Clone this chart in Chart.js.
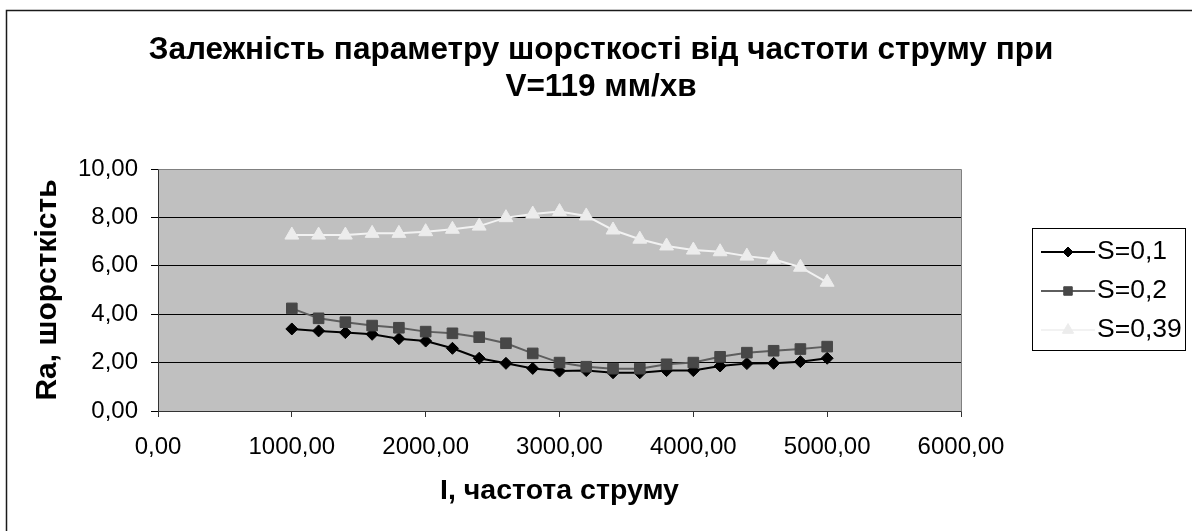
<!DOCTYPE html>
<html>
<head>
<meta charset="utf-8">
<script src="https://cdn.jsdelivr.net/npm/chart.js@4.4.1/dist/chart.umd.min.js"></script>
<style>
  html, body { margin: 0; padding: 0; background: #fff; }
  #wrap { position: relative; width: 1192px; height: 531px; }
  canvas { display: block; }
</style>
</head>
<body>
<div id="wrap"><canvas id="c" width="1192" height="531"></canvas></div>
<script>
// Frequency of the current, I
const frequency = [1000, 1200, 1400, 1600, 1800, 2000, 2200, 2400, 2600, 2800, 3000,
                   3200, 3400, 3600, 3800, 4000, 4200, 4400, 4600, 4800, 5000];

// Roughness Ra for each feed S
const seriesS01  = [3.39, 3.31, 3.24, 3.17, 2.99, 2.89, 2.59, 2.18, 1.97, 1.76, 1.65,
                    1.67, 1.58, 1.58, 1.67, 1.67, 1.86, 1.96, 1.97, 2.04, 2.18];
const seriesS02  = [4.24, 3.83, 3.67, 3.53, 3.44, 3.28, 3.21, 3.05, 2.80, 2.38, 2.00,
                    1.83, 1.75, 1.75, 1.93, 2.00, 2.24, 2.41, 2.49, 2.56, 2.66];
const seriesS039 = [7.27, 7.27, 7.27, 7.34, 7.34, 7.41, 7.51, 7.64, 7.99, 8.14, 8.24,
                    8.06, 7.48, 7.10, 6.82, 6.65, 6.58, 6.40, 6.27, 5.94, 5.32];

const seriesNames = ['S=0,1', 'S=0,2', 'S=0,39'];
const titleLines = ['Залежність параметру шорсткості від частоти струму при', 'V=119 мм/хв'];
const xTitle = 'I, частота струму';
const yTitle = 'Ra, шорсткість';

const FONT = "'Liberation Sans', Arial, Helvetica, sans-serif";

const toPoints = ys => frequency.map((x, i) => ({ x: x, y: ys[i] }));
const fmt = v => Number(v).toFixed(2).replace('.', ',');

// Gray plot area, outer frame, centred title and a line+marker legend
const decor = {
  id: 'decor',
  beforeDraw(chart) {
    const { ctx, chartArea: a } = chart;
    ctx.save();
    ctx.fillStyle = '#c0c0c0';
    ctx.fillRect(a.left, a.top, a.right - a.left, a.bottom - a.top);
    ctx.restore();
  },
  afterDatasetsDraw(chart) {
    const { ctx, chartArea: a } = chart;
    ctx.save();
    ctx.strokeStyle = '#808080';
    ctx.lineWidth = 1;
    ctx.beginPath();
    ctx.moveTo(Math.round(a.left) + 0.5, Math.round(a.top) + 0.5);
    ctx.lineTo(Math.round(a.right) + 0.5, Math.round(a.top) + 0.5);
    ctx.lineTo(Math.round(a.right) + 0.5, Math.round(a.bottom) + 0.5);
    ctx.stroke();
    ctx.restore();
  },
  afterDraw(chart) {
    const ctx = chart.ctx;
    ctx.save();
    // outer chart frame
    ctx.strokeStyle = '#1a1a1a';
    ctx.lineWidth = 1.5;
    ctx.beginPath();
    ctx.moveTo(6.5, 531);
    ctx.lineTo(6.5, 10.5);
    ctx.lineTo(1192, 10.5);
    ctx.stroke();

    // chart title, centred on the whole chart
    ctx.fillStyle = '#000';
    ctx.font = 'bold 31.5px ' + FONT;
    ctx.textAlign = 'center';
    ctx.textBaseline = 'middle';
    titleLines.forEach((line, i) => ctx.fillText(line, 601, 50 + i * 37));

    // legend box
    ctx.strokeStyle = '#000';
    ctx.lineWidth = 1;
    ctx.strokeRect(1032.5, 228.5, 153, 122);

    const legendRadius = [5, 6, 6.5];
    chart.data.datasets.forEach((ds, i) => {
      const y = 252 + i * 39;
      ctx.strokeStyle = ds.borderColor;
      ctx.lineWidth = 2;
      ctx.beginPath();
      ctx.moveTo(1041, y);
      ctx.lineTo(1095, y);
      ctx.stroke();
      ctx.fillStyle = ds.pointBackgroundColor;
      ctx.strokeStyle = ds.pointBorderColor;
      ctx.lineWidth = 1;
      Chart.helpers.drawPoint(ctx, {
        pointStyle: ds.pointStyle, rotation: 0,
        radius: legendRadius[i], borderWidth: 1
      }, 1068, y);
      ctx.fillStyle = '#000';
      ctx.font = '26.5px ' + FONT;
      ctx.textBaseline = 'middle';
      ctx.textAlign = 'left';
      ctx.fillText(ds.label, 1097, y);
    });
    ctx.restore();
  }
};

new Chart(document.getElementById('c'), {
  type: 'line',
  data: {
    datasets: [
      {
        label: seriesNames[0], data: toPoints(seriesS01), order: 3,
        borderColor: '#000000', borderWidth: 2,
        pointStyle: 'rectRot', pointRadius: 6,
        pointBackgroundColor: '#000000', pointBorderColor: '#000000', pointBorderWidth: 1
      },
      {
        label: seriesNames[1], data: toPoints(seriesS02), order: 2,
        borderColor: '#5e5e5e', borderWidth: 2,
        pointStyle: 'rect', pointRadius: 7.5,
        pointBackgroundColor: '#474747', pointBorderColor: '#474747', pointBorderWidth: 1
      },
      {
        label: seriesNames[2], data: toPoints(seriesS039), order: 1,
        borderColor: '#f2f2f2', borderWidth: 2,
        pointStyle: 'triangle', pointRadius: 8,
        pointBackgroundColor: '#ececec', pointBorderColor: '#ececec', pointBorderWidth: 1
      }
    ]
  },
  options: {
    responsive: false,
    animation: false,
    devicePixelRatio: 1,
    layout: { padding: { left: 0, top: 169, right: 231, bottom: 0 } },
    elements: { line: { tension: 0 } },
    plugins: {
      legend: { display: false },
      tooltip: { enabled: false },
      title: { display: false }
    },
    scales: {
      x: {
        type: 'linear',
        min: 0, max: 6000,
        ticks: {
          stepSize: 1000, color: '#000', padding: 16,
          font: { family: FONT, size: 24 },
          callback: v => fmt(v),
          maxRotation: 0
        },
        grid: { drawOnChartArea: false, drawTicks: true, tickLength: 6, color: '#333', lineWidth: 1 },
        border: { color: '#333', width: 1 },
        title: {
          display: true, text: xTitle, color: '#000',
          font: { family: FONT, size: 28.5, weight: 'bold' },
          padding: { top: 0, bottom: 23 }
        },
        afterFit(scale) { scale.height = 120; }
      },
      y: {
        min: 0, max: 10,
        ticks: {
          stepSize: 2, color: '#000', padding: 13,
          font: { family: FONT, size: 24 },
          callback: v => fmt(v)
        },
        grid: { color: '#000', lineWidth: 1, tickLength: 7 },
        border: { color: '#333', width: 1 },
        title: {
          display: true, text: yTitle, color: '#000',
          font: { family: FONT, size: 30, weight: 'bold' },
          padding: { top: 30, bottom: 0 }
        },
        afterFit(scale) { scale.width = 158; }
      }
    }
  },
  plugins: [decor]
});
</script>
</body>
</html>
